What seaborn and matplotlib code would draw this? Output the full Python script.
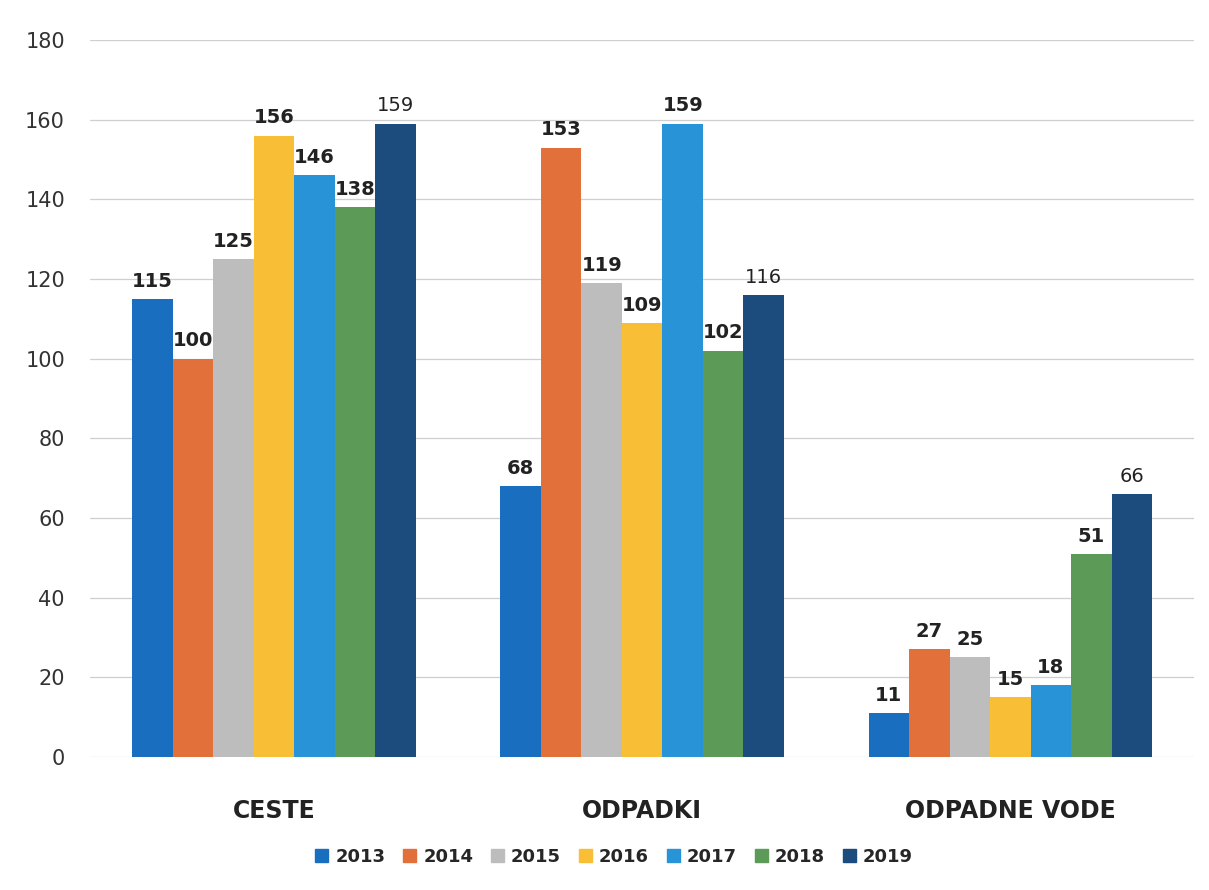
import matplotlib
matplotlib.use("Agg")
import matplotlib.pyplot as plt
import seaborn as sns
import pandas as pd

categories = ["CESTE", "ODPADKI", "ODPADNE VODE"]
years = ["2013", "2014", "2015", "2016", "2017", "2018", "2019"]
v2013 = [115, 68, 11]
v2014 = [100, 153, 27]
v2015 = [125, 119, 25]
v2016 = [156, 109, 15]
v2017 = [146, 159, 18]
v2018 = [138, 102, 51]
v2019 = [159, 116, 66]
colors = ["#1a6ebf", "#e2703a", "#bdbdbd", "#f8bf36", "#2993d8", "#5b9a57", "#1b4c7d"]

series = [v2013, v2014, v2015, v2016, v2017, v2018, v2019]
rows = []
for y, vals in zip(years, series):
    for c, v in zip(categories, vals):
        rows.append({"cat": c, "year": y, "val": v})
df = pd.DataFrame(rows)

sns.set_theme(style="white")
plt.rcParams['font.family'] = ['DejaVu Sans']

fig = plt.figure(figsize=(12.09, 8.90), dpi=100)
ax = fig.add_axes([0.0744, 0.1494, 0.9136, 0.8056])
sns.barplot(data=df, x="cat", y="val", hue="year", palette=colors,
            width=0.77, gap=0, saturation=1, ax=ax, legend=True, errorbar=None,
            linewidth=0)

for i, cont in enumerate(ax.containers):
    bold = "normal" if years[i] == "2019" else "bold"
    ax.bar_label(cont, labels=[str(v) for v in series[i]], padding=6,
                 fontsize=14, fontweight=bold, color="#222222")

ax.set_ylim(0, 180)
ax.set_yticks(range(0, 181, 20))
ax.set_xlim(-0.5, 2.5)
ax.grid(axis="y", color="#cfcfcf", linewidth=0.9)
ax.set_axisbelow(True)
for s in ax.spines.values():
    s.set_visible(False)
ax.set_xlabel("")
ax.set_ylabel("")
ax.tick_params(axis="y", labelsize=15, labelcolor="#333333", length=0, pad=18)
ax.tick_params(axis="x", labelsize=17, labelcolor="#222222", length=0, pad=30)
for t in ax.get_xticklabels():
    t.set_fontweight("bold")

ax.get_legend().remove()
handles = [plt.Rectangle((0, 0), 1, 1, color=c) for c in colors]
fig.legend(handles, years, loc="center", bbox_to_anchor=(0.508, 0.037), ncol=7,
           frameon=False, prop={"size": 13, "weight": "bold"},
           handlelength=0.7, handleheight=0.7, handletextpad=0.4, columnspacing=1.0)

fig.savefig("out.png", dpi=100)
